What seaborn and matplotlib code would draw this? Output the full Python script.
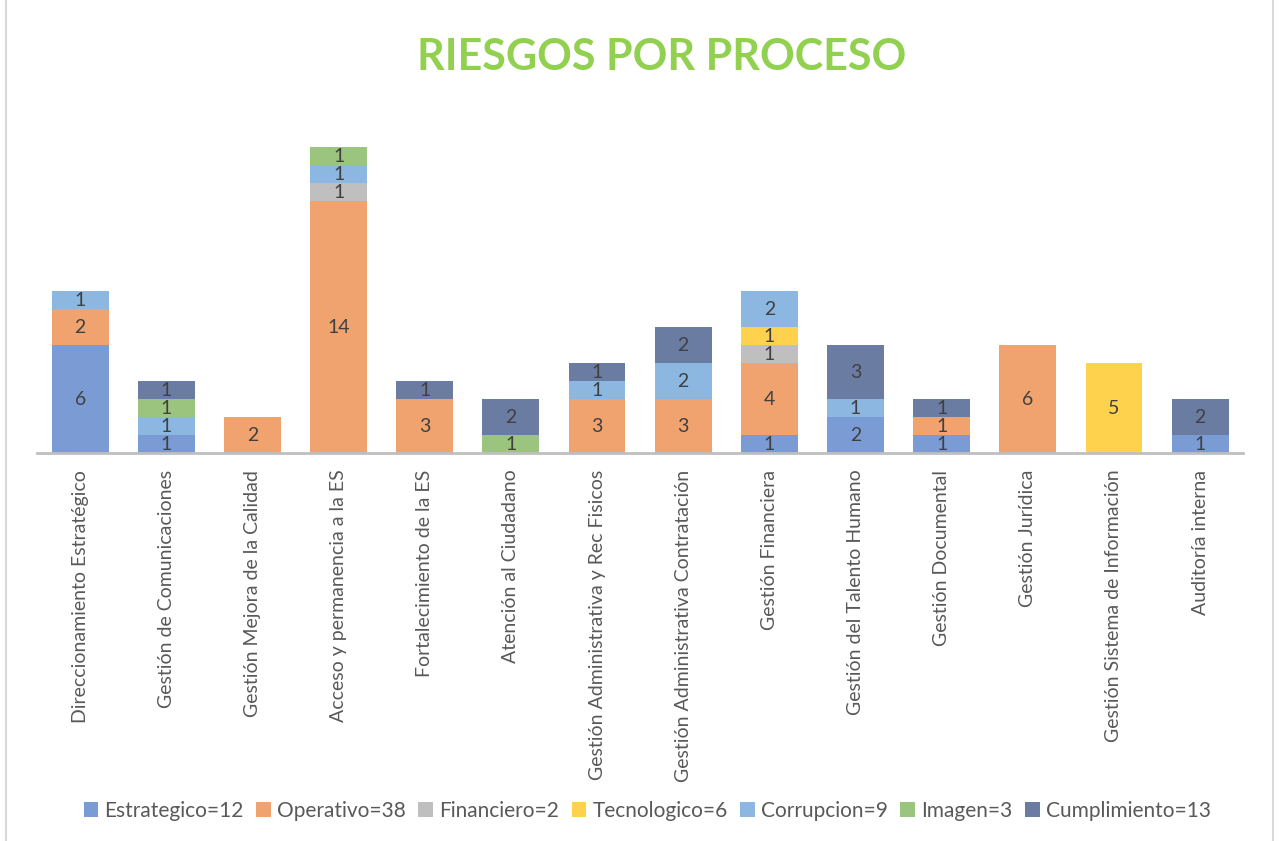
import matplotlib
matplotlib.use("Agg")
import matplotlib.pyplot as plt
from matplotlib.lines import Line2D
from matplotlib.patches import Patch
import numpy as np
import pandas as pd
import seaborn as sns

# ── DATA ──────────────────────────────────────────────────────────────────────
PROCESOS = [
    "Direccionamiento Estratégico", "Gestión de Comunicaciones",
    "Gestión Mejora de la Calidad", "Acceso y permanencia a la ES",
    "Fortalecimiento de la ES", "Atención al Ciudadano",
    "Gestión Administrativa y Rec Fisicos", "Gestión Administrativa Contratación",
    "Gestión Financiera", "Gestión del Talento Humano", "Gestión Documental",
    "Gestión Jurídica", "Gestión Sistema de Información", "Auditoría interna",
]
TIPOS = ["Estrategico", "Operativo", "Financiero", "Tecnologico",
         "Corrupcion", "Imagen", "Cumplimiento"]

estrategico  = [6, 1, 0, 0, 0, 0, 0, 0, 1, 2, 1, 0, 0, 1]
operativo    = [2, 0, 2, 14, 3, 0, 3, 3, 4, 0, 1, 6, 0, 0]
financiero   = [0, 0, 0, 1, 0, 0, 0, 0, 1, 0, 0, 0, 0, 0]
tecnologico  = [0, 0, 0, 0, 0, 0, 0, 0, 1, 0, 0, 0, 5, 0]
corrupcion   = [1, 1, 0, 1, 0, 0, 1, 2, 2, 1, 0, 0, 0, 0]
imagen       = [0, 1, 0, 1, 0, 1, 0, 0, 0, 0, 0, 0, 0, 0]
cumplimiento = [0, 1, 0, 0, 1, 2, 1, 2, 0, 3, 1, 0, 0, 2]

COLORES = ["#7B9BD5", "#F0A36E", "#BFBFBF", "#FFD24D",
           "#8CB7E1", "#9BC57E", "#6A7CA2"]

series = [estrategico, operativo, financiero, tecnologico,
          corrupcion, imagen, cumplimiento]

rows = []
for i, proc in enumerate(PROCESOS):
    for tipo, vals in zip(TIPOS, series):
        rows.append({"proceso": proc, "tipo": tipo, "n": vals[i]})
df = pd.DataFrame(rows)

# ── PLOT ──────────────────────────────────────────────────────────────────────
sns.set_theme(style="white")
plt.rcParams["font.family"] = ["Lato", "DejaVu Sans"]

fig = plt.figure(figsize=(12.79, 8.41), dpi=100)
ax = fig.add_axes([0.029, 0.4613, 0.943, 0.3853])

palette = dict(zip(TIPOS, COLORES))
# histplot stacks the first hue level on top -> reverse order for the stack
sns.histplot(data=df, x="proceso", weights="n", hue="tipo",
             hue_order=TIPOS[::-1], palette=palette, multiple="stack",
             discrete=True, shrink=0.66, alpha=1, linewidth=0,
             legend=False, ax=ax)

for p in ax.patches:
    h = p.get_height()
    if h > 0:
        ax.text(p.get_x() + p.get_width() / 2, p.get_y() + h / 2,
                f"{int(round(h))}", ha="center", va="center",
                fontsize=14, color="#404040")

ax.set_ylim(0, 18)
ax.set_xlim(-0.5, len(PROCESOS) - 0.5)
ax.set_xlabel(""); ax.set_ylabel("")
ax.set_yticks([])
ax.set_xticks(range(len(PROCESOS)))
ax.set_xticklabels(PROCESOS, rotation=90, fontsize=14, color="#595959")
ax.tick_params(axis="x", length=0, pad=12)
for s in ["top", "right", "left"]:
    ax.spines[s].set_visible(False)
ax.spines["bottom"].set_color("#BFBFBF")
ax.spines["bottom"].set_linewidth(2)

fig.text(0.517, 0.932, "RIESGOS POR PROCESO", ha="center", va="center",
         fontsize=31, fontweight="bold", color="#92D050")

totales = [sum(v) for v in series]
handles = [Patch(facecolor=c, edgecolor="none") for c in COLORES]
labels = [f"{t}={n}" for t, n in zip(TIPOS, totales)]
fig.legend(handles, labels, loc="center", bbox_to_anchor=(0.506, 0.036),
           ncol=7, frameon=False, fontsize=15, labelcolor="#595959",
           handlelength=0.7, handleheight=0.7, handletextpad=0.3,
           columnspacing=0.6)

fig.add_artist(Line2D([0.005, 0.005], [0, 1], color="#D9D9D9", lw=1.5,
                      transform=fig.transFigure))
fig.add_artist(Line2D([0.9955, 0.9955], [0, 1], color="#D9D9D9", lw=1.5,
                      transform=fig.transFigure))

fig.savefig("out.png", dpi=100)
